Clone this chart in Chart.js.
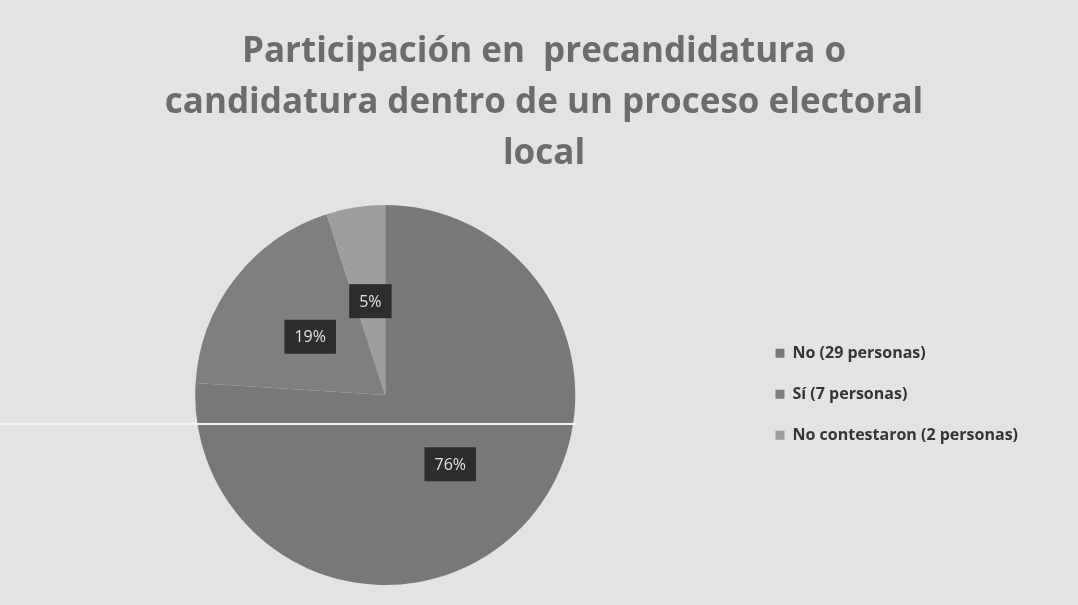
<!DOCTYPE html>
<html lang="es">
<head>
    <meta charset="UTF-8">
    <title>Participación en precandidatura o candidatura</title>
    <script src="https://cdn.jsdelivr.net/npm/chart.js"></script>
    <style>
        html, body { margin: 0; padding: 0; background: #e3e3e3; }
        #wrap { position: relative; width: 1078px; height: 605px; }
        /* raya blanca del escaneo */
        #raya { position: absolute; left: 0; top: 423px; width: 576px; height: 2px; background: #f4f4f4; }
    </style>
</head>
<body>
    <div id="wrap">
        <canvas id="grafico" width="1078" height="605"></canvas>
        <div id="raya"></div>
    </div>

    <script>
        // Datos
        const categorias = ['No (29 personas)', 'Sí (7 personas)', 'No contestaron (2 personas)'];
        const porcentajes = [76, 19, 5];
        const colores = ['#787878', '#7f7f7f', '#9d9d9d'];
        const titulo = ['Participación en  precandidatura o', 'candidatura dentro de un proceso electoral', 'local'];

        // Etiquetas con caja oscura sobre cada porción
        const etiquetas = {
            id: 'etiquetas',
            afterLayout(chart) {
                // el título del original está un poco más a la derecha
                chart.titleBlock.left += 20;
                chart.titleBlock.right += 20;
            },
            afterDatasetsDraw(chart) {
                const ctx = chart.ctx;
                const meta = chart.getDatasetMeta(0);
                ctx.save();
                ctx.font = '16px "Open Sans"';
                ctx.textAlign = 'center';
                ctx.textBaseline = 'middle';
                meta.data.forEach((arc, i) => {
                    const p = arc.getCenterPoint();
                    const txt = porcentajes[i] + '%';
                    const w = ctx.measureText(txt).width + 20;
                    const h = 34;
                    ctx.fillStyle = '#2d2d2d';
                    ctx.fillRect(p.x - w / 2, p.y - h / 2, w, h);
                    ctx.fillStyle = '#e2e2e2';
                    ctx.fillText(txt, p.x, p.y + 1);
                });
                ctx.restore();
            }
        };

        new Chart(document.getElementById('grafico').getContext('2d'), {
            type: 'pie',
            data: {
                labels: categorias,
                datasets: [{
                    data: porcentajes,
                    backgroundColor: colores,
                    borderWidth: 0
                }]
            },
            options: {
                responsive: false,
                animation: false,
                layout: { padding: { left: 20, right: 50, top: 0, bottom: 20 } },
                plugins: {
                    title: {
                        display: true,
                        text: titulo,
                        color: '#6c6c6c',
                        font: { family: 'Open Sans', size: 35, weight: 'bold', lineHeight: 1.457 },
                        padding: { top: 27, bottom: 25 }
                    },
                    legend: {
                        position: 'right',
                        // título vacío solo para bajar el bloque de la leyenda
                        title: {
                            display: true,
                            text: '',
                            color: 'rgba(0,0,0,0)',
                            padding: { top: 0, bottom: 189 }
                        },
                        labels: {
                            color: '#353535',
                            font: { family: 'Open Sans', size: 16, weight: 'bold' },
                            boxWidth: 9,
                            boxHeight: 9,
                            padding: 25
                        }
                    },
                    tooltip: { enabled: false }
                }
            },
            plugins: [etiquetas]
        });
    </script>
</body>
</html>
